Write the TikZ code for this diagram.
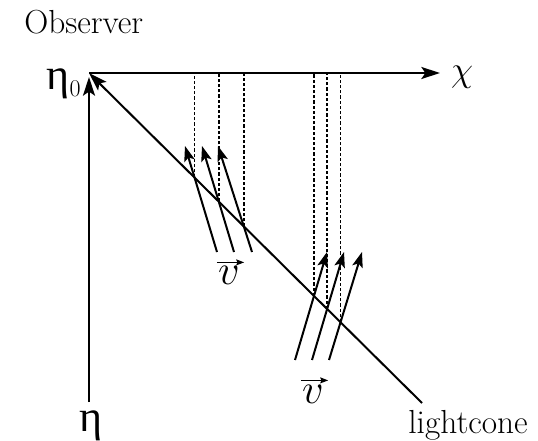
\documentclass[tikz,border=0pt]{standalone}
\usepackage{fontspec}
\newfontfamily\grk{Liberation Serif}
\usetikzlibrary{arrows.meta,intersections}
\begin{document}
\begin{tikzpicture}[x=0.75pt,y=-0.75pt,
  mainline/.style={line width=1.5pt},
  axisarrow/.style={mainline,-{Stealth[length=14pt,width=9pt,inset=3pt]}},
  varrow/.style={mainline,-{Stealth[length=11.5pt,width=8pt,inset=2.5pt]}},
  vecarrow/.style={line width=0.9pt,-{Stealth[length=6pt,width=4.5pt,inset=1pt]}},
  proj/.style={line width=1.2pt,dash pattern=on 2.4pt off 1.5pt},
  lbl/.style={inner sep=0pt,font=\fontsize{25}{29}\selectfont},
  mlbl/.style={inner sep=0pt,font=\Huge,scale=1.28}]
\useasboundingbox (0,0) rectangle (538,441);
% key points
\coordinate (O) at (89,73);
\coordinate (Xend) at (440,73);
\coordinate (Ebot) at (89,402);
\coordinate (Etop) at (89,77);
\coordinate (Lstart) at (422,403);
% axes
\draw[axisarrow] (O) -- (Xend);
\draw[axisarrow] (Ebot) -- (Etop);
\draw[axisarrow,name path=cone] (Lstart) -- (O);
% group 1 velocity arrows
\coordinate (a1s) at (217,252); \coordinate (a1t) at (185,146);
\coordinate (a2s) at (234,252); \coordinate (a2t) at (202,146);
\coordinate (a3s) at (252,252); \coordinate (a3t) at (218,146);
% group 2 velocity arrows
\coordinate (b1s) at (295,360); \coordinate (b1t) at (327,252);
\coordinate (b2s) at (312,360); \coordinate (b2t) at (344,252);
\coordinate (b3s) at (329,360); \coordinate (b3t) at (362,252);
\foreach \n in {a1,a2,a3,b1,b2,b3}{
  \path[name path=p\n] (\n s) -- (\n t);
  \path[name intersections={of=cone and p\n, by={i\n}}];
  \draw[proj] (i\n) -- (i\n |- O);
  \draw[varrow] (\n s) -- (\n t);
}
% labels
\node[lbl,anchor=base west] (obs) at (24,34) {Observer};
\node[inner sep=0pt,anchor=base east] (eta0) at (81,90)
  {{\fontsize{33}{35}\selectfont\grk η}\raisebox{-5pt}{\fontsize{18}{20}\selectfont 0}};
\node[inner sep=0pt,anchor=base] (eta) at (91,431) {\fontsize{33}{35}\selectfont\grk η};
\node[inner sep=0pt,font=\Huge,scale=1.08] (chi) at (462,77) {$\chi$};
\node[mlbl,anchor=base] (v1) at (229,285) {$v$};
\node[mlbl,anchor=base] (v2) at (313,403) {$v$};
\foreach \v in {v1,v2}{
  \draw[vecarrow] ([shift={(-1,-4)}]\v.north west) -- ([shift={(4,-4)}]\v.north east);
}
\node[lbl,anchor=base] (lc) at (468,433) {lightcone};
\end{tikzpicture}
\end{document}
